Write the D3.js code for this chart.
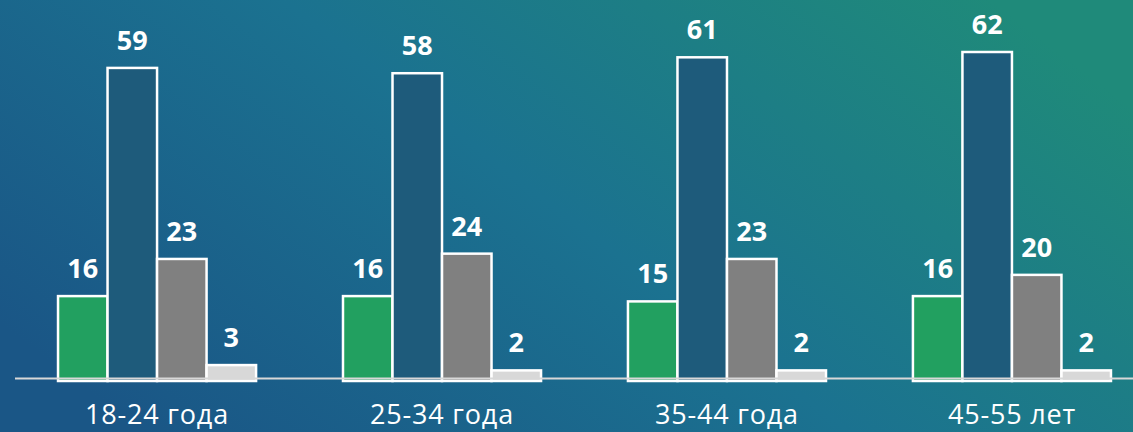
<!DOCTYPE html>
<html>
<head>
<meta charset="utf-8">
<script src="https://cdn.jsdelivr.net/npm/d3@7"></script>
<style>
  html, body { margin: 0; padding: 0; background: #1b5e88; }
  svg { display: block; }
</style>
</head>
<body>
<main></main>
<script>
const WIDTH = 1133;
const HEIGHT = 432;

// categories and series
const ageGroups = ["18-24 года", "25-34 года", "35-44 года", "45-55 лет"];
const seriesKeys = ["s1", "s2", "s3", "s4"];
const s1 = [16, 16, 15, 16];
const s2 = [59, 58, 61, 62];
const s3 = [23, 24, 23, 20];
const s4 = [3, 2, 2, 2];
const seriesColors = ["#22a060", "#1e5b7b", "#808080", "#d8d8d8"];

const series = [s1, s2, s3, s4];

function drawChart () {
    var svg = d3.select("main").append("svg")
                .attr("width", WIDTH)
                .attr("height", HEIGHT);

    // background gradient
    var grad = svg.append("defs").append("linearGradient")
                  .attr("id", "bg")
                  .attr("x1", "0").attr("y1", "0.75")
                  .attr("x2", "1").attr("y2", "0.25");
    grad.append("stop").attr("offset", "0%").attr("stop-color", "#1a5686");
    grad.append("stop").attr("offset", "50%").attr("stop-color", "#1b7290");
    grad.append("stop").attr("offset", "100%").attr("stop-color", "#1f8a7a");

    svg.append("rect")
       .attr("width", WIDTH)
       .attr("height", HEIGHT)
       .attr("fill", "url(#bg)");

    var x0 = d3.scaleBand()
               .domain(ageGroups)
               .range([15, 1154])
               .paddingInner(0.305)
               .paddingOuter(0.151)
               .align(0.5);

    var x1 = d3.scaleBand()
               .domain(seriesKeys)
               .range([0, x0.bandwidth()]);

    var y = d3.scaleLinear()
              .domain([0, 62])
              .range([381, 52]);

    var groups = svg.selectAll("g.group")
                    .data(ageGroups)
                    .enter().append("g")
                    .attr("class", "group")
                    .attr("transform", function (d) { return "translate(" + x0(d) + ",0)"; });

    groups.selectAll("rect")
          .data(function (d, i) { return series.map(function (s, k) { return { key: seriesKeys[k], value: s[i], color: seriesColors[k] }; }); })
          .enter().append("rect")
          .attr("x", function (d) { return x1(d.key); })
          .attr("y", function (d) { return y(d.value); })
          .attr("width", x1.bandwidth())
          .attr("height", function (d) { return y(0) - y(d.value); })
          .attr("fill", function (d) { return d.color; })
          .attr("stroke", "#ffffff")
          .attr("stroke-width", 2.5);

    groups.selectAll("text.val")
          .data(function (d, i) { return series.map(function (s, k) { return { key: seriesKeys[k], value: s[i] }; }); })
          .enter().append("text")
          .attr("class", "val")
          .attr("x", function (d) { return x1(d.key) + x1.bandwidth() / 2; })
          .attr("y", function (d) { return y(d.value) - 18; })
          .attr("text-anchor", "middle")
          .attr("fill", "#ffffff")
          .style("font-family", "'Open Sans', sans-serif")
          .style("font-weight", "700")
          .style("font-size", "27px")
          .text(function (d) { return d.value; });

    // baseline
    svg.append("line")
       .attr("x1", 15).attr("x2", WIDTH)
       .attr("y1", 378.5).attr("y2", 378.5)
       .attr("stroke", "#d8d8d8")
       .attr("stroke-width", 2);

    // category labels
    svg.selectAll("text.cat")
       .data(ageGroups)
       .enter().append("text")
       .attr("class", "cat")
       .attr("x", function (d) { return x0(d) + x0.bandwidth() / 2; })
       .attr("y", 424)
       .attr("text-anchor", "middle")
       .attr("fill", "#ffffff")
       .style("font-family", "'Open Sans', sans-serif")
       .style("font-size", "27px")
       .style("letter-spacing", "0.8px")
       .text(function (d) { return d; });
}

drawChart();
</script>
</body>
</html>
